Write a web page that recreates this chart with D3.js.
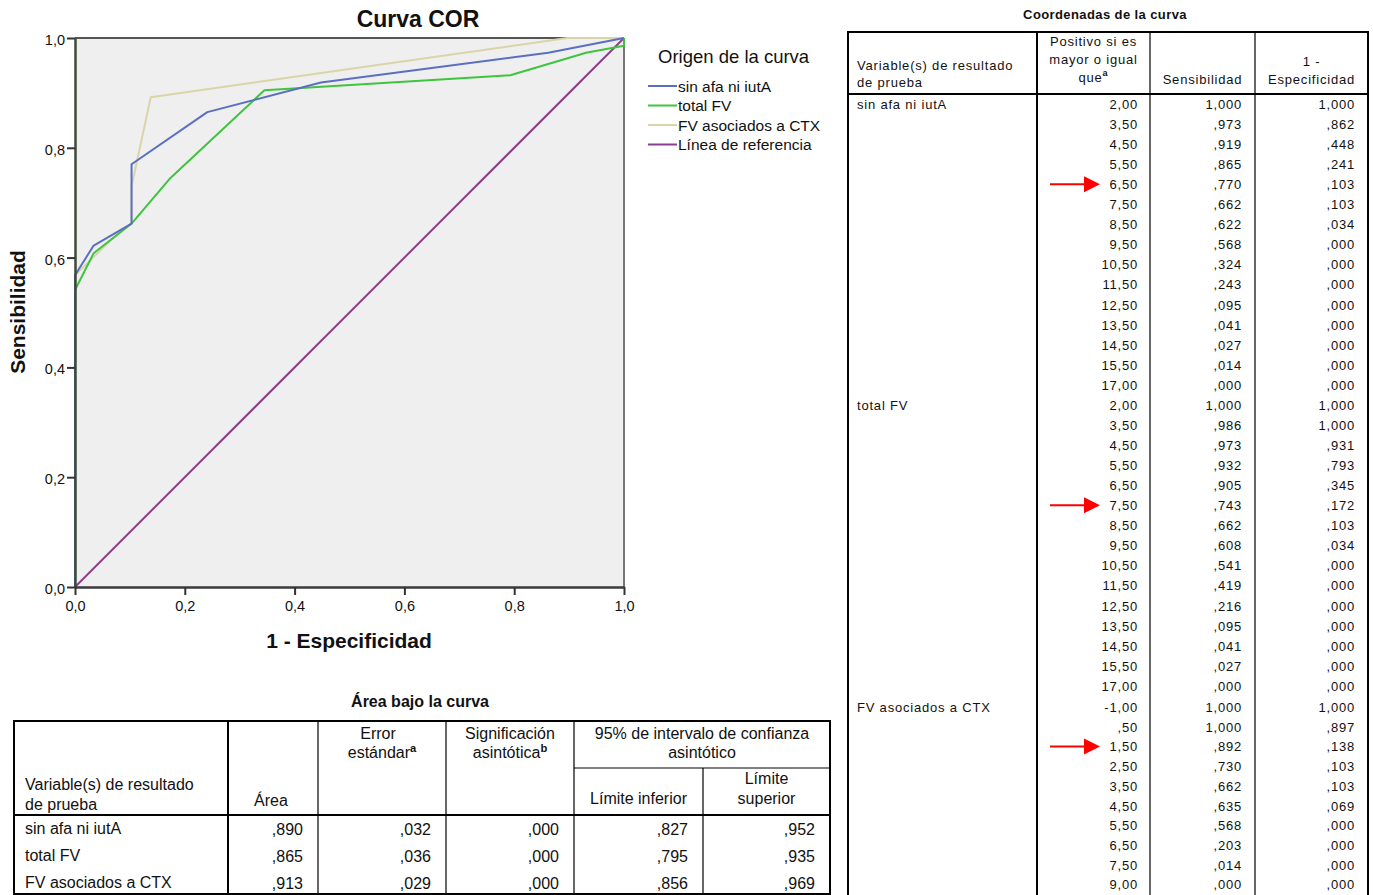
<!DOCTYPE html>
<html>
<head>
<meta charset="utf-8">
<script src="https://cdn.jsdelivr.net/npm/d3@7"></script>
<style>
  body { margin: 0; background: #fff; }
  text { font-family: "Liberation Sans", Arial, sans-serif; fill: #111; }
</style>
</head>
<body>
<svg id="page" width="1373" height="895"></svg>
<script>
// ---- data ----
const curveNames = ["sin afa ni iutA", "total FV", "FV asociados a CTX"];

const cutSinAfa  = [2, 3.5, 4.5, 5.5, 6.5, 7.5, 8.5, 9.5, 10.5, 11.5, 12.5, 13.5, 14.5, 15.5, 17];
const sensSinAfa = [1, .973, .919, .865, .770, .662, .622, .568, .324, .243, .095, .041, .027, .014, 0];
const fprSinAfa  = [1, .862, .448, .241, .103, .103, .034, 0, 0, 0, 0, 0, 0, 0, 0];

const cutTotalFV  = [2, 3.5, 4.5, 5.5, 6.5, 7.5, 8.5, 9.5, 10.5, 11.5, 12.5, 13.5, 14.5, 15.5, 17];
const sensTotalFV = [1, .986, .973, .932, .905, .743, .662, .608, .541, .419, .216, .095, .041, .027, 0];
const fprTotalFV  = [1, 1, .931, .793, .345, .172, .103, .034, 0, 0, 0, 0, 0, 0, 0];

const cutCTX  = [-1, .5, 1.5, 2.5, 3.5, 4.5, 5.5, 6.5, 7.5, 9];
const sensCTX = [1, 1, .892, .730, .662, .635, .568, .203, .014, 0];
const fprCTX  = [1, .897, .138, .103, .103, .069, 0, 0, 0, 0];

// cut-off marked with a red arrow, one per curve
const markedCuts = [6.5, 7.5, 1.5];

const aucArea   = [.890, .865, .913];
const aucStdErr = [.032, .036, .029];
const aucSig    = [0, 0, 0];
const aucLower  = [.827, .795, .856];
const aucUpper  = [.952, .935, .969];

const axisTicks = [0, .2, .4, .6, .8, 1];

// ---- helpers ----
const curves = [
  {name: curveNames[0], cut: cutSinAfa,  sens: sensSinAfa,  fpr: fprSinAfa,  color: "#5a6fc2"},
  {name: curveNames[1], cut: cutTotalFV, sens: sensTotalFV, fpr: fprTotalFV, color: "#3fc43f"},
  {name: curveNames[2], cut: cutCTX,     sens: sensCTX,     fpr: fprCTX,     color: "#d9d5a8"}
];
const refColor = "#8a3e8e";

// SPSS style decimal comma, no leading zero
function fmt(v, n) {
  let s = Math.abs(v).toFixed(n).replace(".", ",");
  if (s.startsWith("0,")) s = s.slice(1);
  return (v < 0 ? "-" : "") + s;
}

const svg = d3.select("#page");

// ---- ROC chart ----
const x = d3.scaleLinear().domain([0, 1]).range([75, 624]);
const y = d3.scaleLinear().domain([0, 1]).range([587, 38]);

svg.append("rect")
  .attr("x", x(0)).attr("y", y(1))
  .attr("width", x(1) - x(0)).attr("height", y(0) - y(1))
  .attr("fill", "#efefef");

// frame top / right
svg.append("line").attr("x1", x(0)).attr("x2", x(1)).attr("y1", y(1)).attr("y2", y(1))
  .attr("stroke", "#555").attr("stroke-width", 2);
svg.append("line").attr("x1", x(1)).attr("x2", x(1)).attr("y1", y(1)).attr("y2", y(0))
  .attr("stroke", "#777").attr("stroke-width", 2);

const line = d3.line().x(d => x(d[0])).y(d => y(d[1]));

// reference diagonal
svg.append("path")
  .attr("d", line([[0, 0], [1, 1]]))
  .attr("fill", "none").attr("stroke", refColor).attr("stroke-width", 2);

// beige under blue and green
[curves[2], curves[1], curves[0]].forEach(c => {
  const pts = c.fpr.map((f, i) => [f, c.sens[i]]).reverse();
  svg.append("path")
    .attr("d", line(pts))
    .attr("fill", "none")
    .attr("stroke", c.color)
    .attr("stroke-width", 2)
    .attr("stroke-linejoin", "round");
});

const tickFmt = d => d.toFixed(1).replace(".", ",");

const yAxis = svg.append("g")
  .attr("transform", `translate(${x(0)},0)`)
  .call(d3.axisLeft(y).tickValues(axisTicks).tickFormat(tickFmt).tickSize(8).tickSizeOuter(0).tickPadding(2));
const xAxis = svg.append("g")
  .attr("transform", `translate(0,${y(0)})`)
  .call(d3.axisBottom(x).tickValues(axisTicks).tickFormat(tickFmt).tickSize(8).tickSizeOuter(0).tickPadding(6));

[yAxis, xAxis].forEach(g => {
  g.select(".domain").attr("stroke", "#3a3a3a").attr("stroke-width", 2.5);
  g.selectAll(".tick line").attr("stroke", "#333").attr("stroke-width", 2);
  g.selectAll(".tick text").attr("font-size", 14.5).attr("fill", "#222")
    .attr("font-family", "Liberation Sans, Arial, sans-serif");
});
yAxis.select(".domain").attr("stroke", "#3d4a38");
yAxis.selectAll(".tick text").attr("dy", "0.45em");

svg.append("text")
  .attr("x", 418).attr("y", 27)
  .attr("text-anchor", "middle")
  .attr("font-size", 23).attr("font-weight", "bold")
  .text("Curva COR");

svg.append("text")
  .attr("x", 349).attr("y", 648)
  .attr("text-anchor", "middle")
  .attr("font-size", 21).attr("font-weight", "bold")
  .text("1 - Especificidad");

svg.append("text")
  .attr("transform", "translate(25,312) rotate(-90)")
  .attr("text-anchor", "middle")
  .attr("font-size", 21).attr("font-weight", "bold")
  .text("Sensibilidad");

// legend
const legend = svg.append("g");
legend.append("text")
  .attr("x", 658).attr("y", 63)
  .attr("font-size", 18.5)
  .text("Origen de la curva");

const legendItems = curves.map(c => ({name: c.name, color: c.color}))
  .concat([{name: "Línea de referencia", color: refColor}]);

const li = legend.selectAll("g.item")
  .data(legendItems)
  .join("g")
  .attr("class", "item")
  .attr("transform", (d, i) => `translate(648,${86 + i * 19.5})`);
li.append("line")
  .attr("x1", 0).attr("x2", 29)
  .attr("stroke", d => d.color).attr("stroke-width", 2);
li.append("text")
  .attr("x", 30).attr("y", 5.5)
  .attr("font-size", 15.5)
  .text(d => d.name);

// ---- Área bajo la curva table ----
const aT = {cols: [14, 228, 318, 446, 574, 703, 830], top: 721, mid: 768, head: 815, bottom: 894};
const aucG = svg.append("g");

aucG.append("text")
  .attr("x", 420).attr("y", 707)
  .attr("text-anchor", "middle")
  .attr("font-size", 16).attr("font-weight", "bold")
  .text("Área bajo la curva");

function hline(g, x1, x2, yy, w) {
  g.append("line").attr("x1", x1).attr("x2", x2).attr("y1", yy).attr("y2", yy)
    .attr("stroke", "#000").attr("stroke-width", w);
}
function vline(g, xx, y1, y2, w) {
  g.append("line").attr("x1", xx).attr("x2", xx).attr("y1", y1).attr("y2", y2)
    .attr("stroke", "#000").attr("stroke-width", w);
}

hline(aucG, aT.cols[0] - 1, aT.cols[6] + 1, aT.top, 2);
hline(aucG, aT.cols[0] - 1, aT.cols[6] + 1, aT.bottom, 2);
hline(aucG, aT.cols[0], aT.cols[6], aT.head, 2);
hline(aucG, aT.cols[4], aT.cols[6], aT.mid, 1.2);
vline(aucG, aT.cols[0], aT.top, aT.bottom, 2);
vline(aucG, aT.cols[6], aT.top, aT.bottom, 2);
vline(aucG, aT.cols[1], aT.top, aT.bottom, 2);
[2, 3, 4].forEach(c => vline(aucG, aT.cols[c], aT.top, aT.bottom, 1.2));
vline(aucG, aT.cols[5], aT.mid, aT.bottom, 1.2);

const aucFont = 16;
function label(g, xx, yy, txt, anchor, size, sup) {
  const t = g.append("text").attr("x", xx).attr("y", yy)
    .attr("text-anchor", anchor || "start")
    .attr("font-size", size);
  t.append("tspan").text(txt);
  if (sup) t.append("tspan").attr("dy", -6).attr("font-size", size * 0.7).attr("font-weight", "bold").text(sup);
  return t;
}
const mid = (a, b) => (a + b) / 2;

label(aucG, 25, 790, "Variable(s) de resultado", "start", aucFont);
label(aucG, 25, 810, "de prueba", "start", aucFont);
label(aucG, 254, 806, "Área", "start", aucFont);
label(aucG, mid(aT.cols[2], aT.cols[3]) - 4, 739, "Error", "middle", aucFont);
label(aucG, mid(aT.cols[2], aT.cols[3]), 758, "estándar", "middle", aucFont, "a");
label(aucG, mid(aT.cols[3], aT.cols[4]), 739, "Significación", "middle", aucFont);
label(aucG, mid(aT.cols[3], aT.cols[4]), 758, "asintótica", "middle", aucFont, "b");
label(aucG, mid(aT.cols[4], aT.cols[6]), 739, "95% de intervalo de confianza", "middle", aucFont);
label(aucG, mid(aT.cols[4], aT.cols[6]), 758, "asintótico", "middle", aucFont);
label(aucG, mid(aT.cols[4], aT.cols[5]), 804, "Límite inferior", "middle", aucFont);
label(aucG, mid(aT.cols[5], aT.cols[6]), 784, "Límite", "middle", aucFont);
label(aucG, mid(aT.cols[5], aT.cols[6]), 804, "superior", "middle", aucFont);

const aucCols = [aucArea, aucStdErr, aucSig, aucLower, aucUpper];
curveNames.forEach((n, r) => {
  const yy = 834 + r * 27;
  label(aucG, 25, yy, n, "start", aucFont);
  aucCols.forEach((col, c) => {
    label(aucG, aT.cols[c + 2] - 15, yy + 1, fmt(col[r], 3), "end", aucFont);
  });
});

// ---- Coordenadas de la curva table ----
const cT = {cols: [848, 1037, 1150, 1255, 1368], top: 32, head: 94, bottom: 900};
const coG = svg.append("g").attr("letter-spacing", 0.8);
const coFont = 13;

coG.append("text")
  .attr("x", 1105).attr("y", 19)
  .attr("text-anchor", "middle")
  .attr("font-size", 13).attr("font-weight", "bold")
  .attr("letter-spacing", 0.4)
  .text("Coordenadas de la curva");

hline(coG, cT.cols[0] - 1, cT.cols[4] + 1, cT.top, 2);
hline(coG, cT.cols[0], cT.cols[4], cT.head, 2);
vline(coG, cT.cols[0], cT.top, cT.bottom, 2);
vline(coG, cT.cols[4], cT.top, cT.bottom, 2);
vline(coG, cT.cols[1], cT.top, cT.bottom, 2);
vline(coG, cT.cols[2], cT.top, cT.bottom, 1.2);
vline(coG, cT.cols[3], cT.top, cT.bottom, 1.2);

label(coG, 857, 70, "Variable(s) de resultado", "start", coFont);
label(coG, 857, 87, "de prueba", "start", coFont);
label(coG, mid(cT.cols[1], cT.cols[2]), 46, "Positivo si es", "middle", coFont);
label(coG, mid(cT.cols[1], cT.cols[2]), 64, "mayor o igual", "middle", coFont);
label(coG, mid(cT.cols[1], cT.cols[2]), 82, "que", "middle", coFont, "a");
label(coG, mid(cT.cols[2], cT.cols[3]), 84, "Sensibilidad", "middle", coFont);
label(coG, mid(cT.cols[3], cT.cols[4]), 66, "1 -", "middle", coFont);
label(coG, mid(cT.cols[3], cT.cols[4]), 84, "Especificidad", "middle", coFont);

const groupStart = [104, 405, 707];
const rowStep = [20.05, 20.05, 19.7];
curves.forEach((c, g) => {
  label(coG, 857, groupStart[g] + 5, c.name, "start", coFont);
  c.cut.forEach((cut, i) => {
    const ry = groupStart[g] + i * rowStep[g];
    const yy = ry + 5;
    label(coG, cT.cols[2] - 12, yy, fmt(cut, 2), "end", coFont);
    label(coG, cT.cols[3] - 13, yy, fmt(c.sens[i], 3), "end", coFont);
    label(coG, cT.cols[4] - 13, yy, fmt(c.fpr[i], 3), "end", coFont);
    if (cut === markedCuts[g]) {
      coG.append("line").attr("x1", 1050).attr("x2", 1086).attr("y1", ry).attr("y2", ry)
        .attr("stroke", "#f00").attr("stroke-width", 2);
      coG.append("path")
        .attr("d", `M1084,${ry - 8}L1100,${ry}L1084,${ry + 8}Z`)
        .attr("fill", "#f00");
    }
  });
});
</script>
</body>
</html>
